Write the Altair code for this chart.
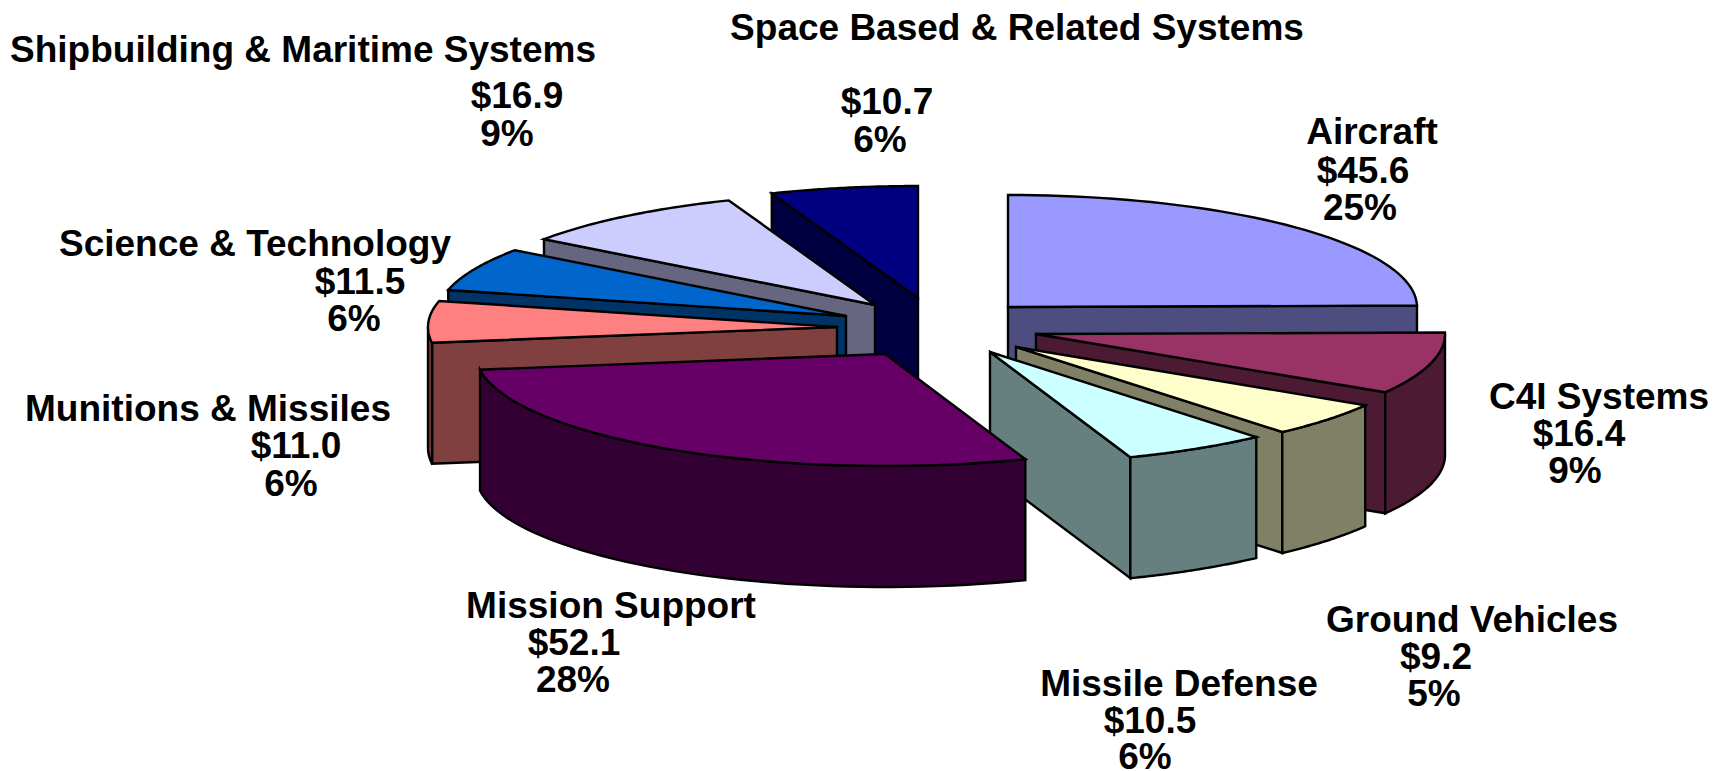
import math
import altair as alt

# Budget categories, amounts ($ billions) and the printed shares
categories = ["Aircraft", "C4I Systems", "Ground Vehicles", "Missile Defense", "Mission Support",
              "Munitions & Missiles", "Science & Technology", "Shipbuilding & Maritime Systems",
              "Space Based & Related Systems"]
amounts = [45.6, 16.4, 9.2, 10.5, 52.1, 11.0, 11.5, 16.9, 10.7]
shares = [25, 9, 5, 6, 28, 6, 6, 9, 6]

top_colors = ["#9999FF", "#993366", "#FFFFCC", "#CCFFFF", "#660066", "#FF8080", "#0066CC", "#CCCCFF", "#000080"]
side_colors = ["#4D4D80", "#4D1A33", "#808066", "#668080", "#330033", "#804040", "#003366", "#666680", "#000040"]

# Exploded position of each slice's apex on the page
apex_x = [1008, 1036, 1016, 990, 885, 837, 846, 875, 918]
apex_y = [307, 334, 347, 352, 354, 327, 316, 305, 298]
paint_order = [8, 7, 6, 5, 0, 1, 2, 3, 4]  # back to front

RX, RY, DEPTH = 409, 112, 121

# Anchors of the three label lines: x centre and baseline of each
name_pos = [(1372, 144), (1599, 409), (1472, 632), (1179, 696), (611, 618), (208, 421), (255, 256), (303, 62), (1017, 40)]
amount_pos = [(1363, 183), (1579, 446), (1436, 669), (1150, 733), (574, 655), (296, 458), (360, 294), (517, 108), (887, 114)]
share_pos = [(1360, 220), (1575, 483), (1434, 706), (1145, 769), (573, 692), (291, 496), (354, 331), (507, 146), (880, 152)]


def rim(cx, cy, deg, drop=0):
    t = math.radians(deg)
    return [cx + RX * math.sin(t), cy - RY * math.cos(t) + drop]


def arc(cx, cy, a0, a1, drop=0, steps=48):
    return [rim(cx, cy, a0 + (a1 - a0) * i / steps, drop) for i in range(steps + 1)]


def feature(ring, fill):
    closed = ring + [ring[0]]
    return {"type": "Feature", "properties": {"fill": fill},
            "geometry": {"type": "Polygon", "coordinates": [closed]}}


def radial_face(cx, cy, deg, fill):
    edge = rim(cx, cy, deg)
    return feature([[cx, cy], edge, [edge[0], edge[1] + DEPTH], [cx, cy + DEPTH]], fill)


# Slice boundaries, clockwise from twelve o'clock
total = sum(amounts)
edges = [0.0]
for value in amounts:
    edges.append(edges[-1] + value / total * 360)

features = []
for i in paint_order:
    a0, a1 = edges[i], edges[i + 1]
    cx, cy = apex_x[i], apex_y[i]
    if 180 < a0 < 360:
        features.append(radial_face(cx, cy, a0, side_colors[i]))
    if 0 < a1 < 180:
        features.append(radial_face(cx, cy, a1, side_colors[i]))
    lo, hi = max(a0, 90), min(a1, 270)
    if lo < hi:
        features.append(feature(arc(cx, cy, lo, hi) + arc(cx, cy, hi, lo, DEPTH), side_colors[i]))
    features.append(feature([[cx, cy]] + arc(cx, cy, a0, a1), top_colors[i]))

labels = []
for i, name in enumerate(categories):
    labels.append({"t": name, "x": name_pos[i][0], "y": name_pos[i][1]})
    labels.append({"t": f"${amounts[i]:.1f}", "x": amount_pos[i][0], "y": amount_pos[i][1]})
    labels.append({"t": f"{shares[i]}%", "x": share_pos[i][0], "y": share_pos[i][1]})

page = dict(type="identity", scale=1, translate=[0, 0])

slices = alt.Chart(alt.Data(values=features)).mark_geoshape(
    stroke="#000000", strokeWidth=2.4, strokeJoin="miter"
).encode(fill=alt.Fill("properties.fill:N", scale=None)).project(**page)

text = alt.Chart(alt.Data(values=labels)).mark_text(
    font="Liberation Sans", fontWeight="bold", fontSize=37, align="center", baseline="alphabetic", color="#000000"
).encode(longitude="x:Q", latitude="y:Q", text="t:N").project(**page)

chart = alt.layer(slices, text).properties(
    width=1715, height=771, padding=0, autosize=alt.AutoSizeParams(type="none"), background="#FFFFFF"
).configure_view(stroke=None)

chart.save("out.html", embed_options={"renderer": "svg", "actions": False})
